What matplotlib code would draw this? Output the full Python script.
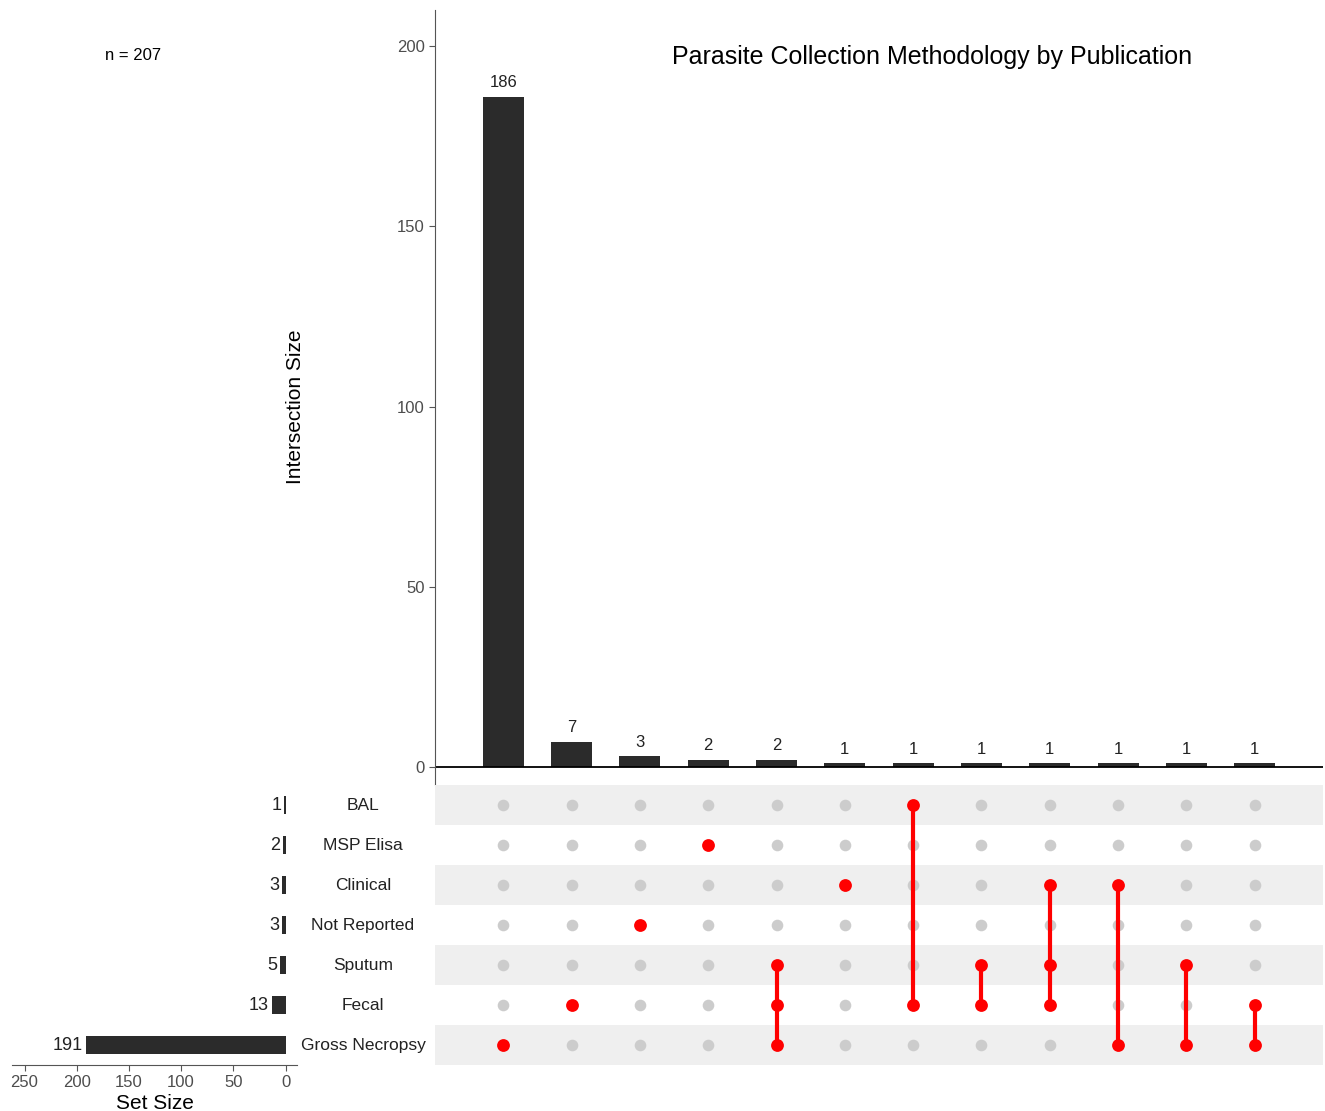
import numpy as np
import matplotlib
matplotlib.use("Agg")
from matplotlib import pyplot as plt

plt.rcParams['font.family'] = ['Liberation Sans', 'DejaVu Sans']

# data
set_names = ["BAL", "MSP Elisa", "Clinical", "Not Reported", "Sputum", "Fecal", "Gross Necropsy"]
set_sizes = [1, 2, 3, 3, 5, 13, 191]
inter_counts = [186, 7, 3, 2, 2, 1, 1, 1, 1, 1, 1, 1]
inter_members = [
    ["Gross Necropsy"],
    ["Fecal"],
    ["Not Reported"],
    ["MSP Elisa"],
    ["Sputum", "Fecal", "Gross Necropsy"],
    ["Clinical"],
    ["BAL", "Fecal"],
    ["Sputum", "Fecal"],
    ["Clinical", "Sputum", "Fecal"],
    ["Clinical", "Gross Necropsy"],
    ["Sputum", "Gross Necropsy"],
    ["Fecal", "Gross Necropsy"],
]
total_n = 207

bar_col = "#2b2b2b"
red = "#ff0000"
grey_dot = "#cccccc"
stripe = "#efefef"
tick_col = "#4d4d4d"
spine_col = "#555555"

W, H = 1325, 1111
fig = plt.figure(figsize=(W / 100, H / 100), dpi=100)

def fr(x0, y0, x1, y1):
    # pixel box -> figure fraction rect
    return [x0 / W, 1 - y1 / H, (x1 - x0) / W, (y1 - y0) / H]

ax_bar = fig.add_axes(fr(435, 10, 1323, 785))
ax_mat = fig.add_axes(fr(435, 785, 1323, 1065))
ax_set = fig.add_axes(fr(12, 785, 297, 1065))

n_int = len(inter_counts)
xs = np.arange(n_int)

# --- intersection bars ---
ax_bar.bar(xs, inter_counts, width=0.6, color=bar_col)
for x, c in zip(xs, inter_counts):
    ax_bar.text(x, c + 1.8, str(c), ha="center", va="bottom", fontsize=12, color="#222222")
ax_bar.axhline(0, color="black", lw=1.3)
ax_bar.set_xlim(-1, n_int)
ax_bar.set_ylim(-5, 210)
ax_bar.set_yticks([0, 50, 100, 150, 200])
ax_bar.set_xticks([])
for s in ["top", "right", "bottom"]:
    ax_bar.spines[s].set_visible(False)
ax_bar.spines["left"].set_color(spine_col)
ax_bar.tick_params(axis="y", colors=spine_col, labelcolor=tick_col, labelsize=12, length=4)
ax_bar.set_ylabel("Intersection Size", fontsize=15)
ax_bar.yaxis.set_label_coords((305 - 435) / 888, 0.488)
ax_bar.set_title("Parasite Collection Methodology by Publication", fontsize=18,
                 x=0.56, y=0.93, pad=0)
fig.text(133 / W, 1 - 56 / H, "n = %d" % total_n, ha="center", va="center", fontsize=12)

# --- matrix ---
n_set = len(set_names)
for i in range(n_set):
    if i % 2 == 0:
        ax_mat.axhspan(i - 0.5, i + 0.5, color=stripe, lw=0, zorder=0)
for j, members in enumerate(inter_members):
    rows = [set_names.index(m) for m in members]
    for i in range(n_set):
        if i not in rows:
            ax_mat.scatter(j, i, s=70, color=grey_dot, zorder=2, lw=0)
    if len(rows) > 1:
        ax_mat.plot([j, j], [min(rows), max(rows)], color=red, lw=3, zorder=3)
    ax_mat.scatter([j] * len(rows), rows, s=85, color=red, zorder=4, lw=0)
ax_mat.set_xlim(-1, n_int)
ax_mat.set_ylim(n_set - 0.5, -0.5)
ax_mat.axis("off")

# --- set sizes ---
ys = np.arange(n_set)
ax_set.barh(ys, set_sizes, height=0.45, color=bar_col)
for y, v in zip(ys, set_sizes):
    ax_set.text(v + 3, y, str(v), ha="right", va="center", fontsize=13, color="#222222")
ax_set.set_xlim(262, -11)
ax_set.set_ylim(n_set - 0.5, -0.5)
ax_set.set_xticks([250, 200, 150, 100, 50, 0])
ax_set.set_yticks([])
for s in ["top", "right", "left"]:
    ax_set.spines[s].set_visible(False)
ax_set.spines["bottom"].set_color(spine_col)
ax_set.tick_params(axis="x", colors=spine_col, labelcolor=tick_col, labelsize=12, length=4, pad=3)
ax_set.set_xlabel("Set Size", fontsize=15, labelpad=3)

# set names between the two panels
for i, name in enumerate(set_names):
    yf = 1 - (805.5 + 40 * i) / H
    fig.text(363 / W, yf, name, ha="center", va="center", fontsize=12.5, color="#222222")

fig.savefig("out.png", dpi=100)
